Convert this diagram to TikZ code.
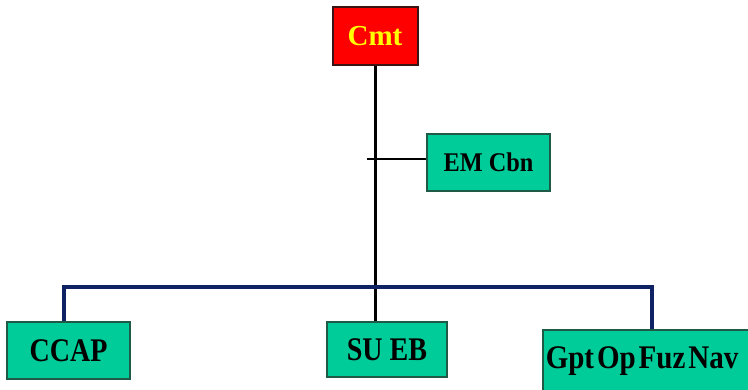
\documentclass[tikz,border=0pt]{standalone}
\usepackage{fontspec}
\setmainfont{Liberation Serif}
\definecolor{boxgreen}{RGB}{0,204,153}
\definecolor{boxedge}{RGB}{30,90,70}
\definecolor{navyline}{RGB}{14,34,100}
\definecolor{cmtred}{RGB}{255,0,0}
\definecolor{cmtyellow}{RGB}{255,255,0}
\tikzset{
  greenbox/.style={draw=boxedge, line width=1.5pt, fill=boxgreen, inner sep=0pt, font=\bfseries},
  redbox/.style={draw={rgb,255:red,60;green,20;blue,20}, line width=2pt, fill=cmtred, inner sep=0pt, font=\bfseries, text=cmtyellow},
  blackline/.style={line width=3pt, black},
  blueline/.style={line width=3.5pt, navyline}
}
\newcommand{\myboxlabel}[2][0.85]{\fontsize{33}{36}\selectfont\scalebox{#1}[1]{#2}}
\begin{document}
\begin{tikzpicture}[x=1pt,y=-1pt]
\clip (0,0) rectangle (748,389);
\fill[white] (0,0) rectangle (748,389);
\coordinate (hl) at (64,287);
\coordinate (hr) at (652,287);
\coordinate (tk) at (367,159);
\node[redbox, minimum width=85pt, minimum height=58pt] (cmt) at (375,36) {\fontsize{29}{32}\selectfont Cmt};
\node[greenbox, minimum width=123pt, minimum height=57pt] (em) at (488.5,162.5) {\fontsize{27}{30}\selectfont\scalebox{0.9}[1]{EM Cbn}};
\node[greenbox, minimum width=123pt, minimum height=57pt] (ccap) at (68.5,350.5) {\myboxlabel{CCAP}};
\node[greenbox, minimum width=120pt, minimum height=55pt] (sueb) at (387,349.5) {\myboxlabel{SU EB}};
\node[greenbox, anchor=west, text width=212pt, align=left, inner xsep=3pt, minimum height=62pt] (gpt) at (542,361) {\myboxlabel[0.88]{Gpt Op Fuz Nav}};
\draw[blackline] (cmt.south) -- (cmt.south |- sueb.north);
\draw[blackline, line width=2.5pt] (tk) -- (tk -| em.west);
\draw[blueline] (ccap.north -| hl) -- (hl) -- (hr) -- (gpt.north -| hr);
\end{tikzpicture}
\end{document}
